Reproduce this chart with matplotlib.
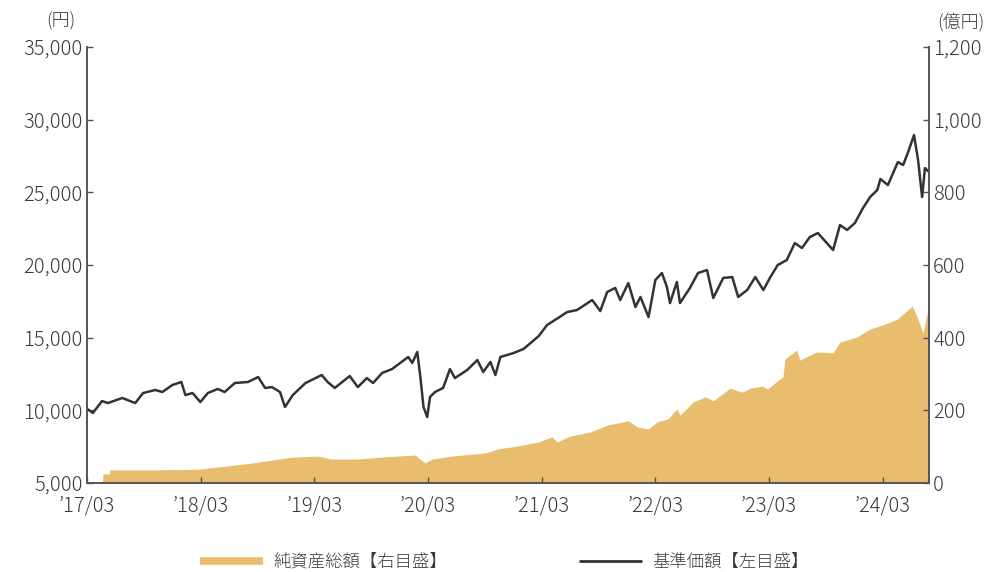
import matplotlib
matplotlib.use("Agg")
import matplotlib.pyplot as plt
from matplotlib.lines import Line2D
from matplotlib.ticker import FuncFormatter
import pandas as pd

plt.rcParams["font.family"] = ["Noto Sans CJK JP", "DejaVu Sans"]
plt.rcParams["font.weight"] = "light"

# 基準価額 (円)
nav_dates = [
    "2017-03-01", "2017-03-20", "2017-04-18", "2017-05-07", "2017-06-22", "2017-08-03",
    "2017-08-28", "2017-10-06", "2017-10-29", "2017-11-30", "2017-12-29", "2018-01-11",
    "2018-02-03", "2018-02-28", "2018-03-24", "2018-04-25", "2018-05-17", "2018-06-19",
    "2018-07-31", "2018-09-02", "2018-09-24", "2018-10-16", "2018-11-11", "2018-11-27",
    "2018-12-22", "2019-02-01", "2019-03-25", "2019-04-13", "2019-05-06", "2019-06-23",
    "2019-07-19", "2019-08-17", "2019-09-06", "2019-10-05", "2019-11-06", "2019-12-02",
    "2019-12-28", "2020-01-10", "2020-01-26", "2020-02-05", "2020-02-15", "2020-02-27",
    "2020-03-07", "2020-03-23", "2020-04-18", "2020-05-10", "2020-05-26", "2020-07-04",
    "2020-08-06", "2020-08-25", "2020-09-17", "2020-10-03", "2020-10-19", "2020-11-30",
    "2021-01-01", "2021-01-24", "2021-02-19", "2021-03-18", "2021-04-22", "2021-05-21",
    "2021-06-22", "2021-08-10", "2021-09-05", "2021-09-27", "2021-10-23", "2021-11-08",
    "2021-12-04", "2021-12-27", "2022-01-12", "2022-02-07", "2022-03-01", "2022-03-22",
    "2022-04-07", "2022-04-17", "2022-05-09", "2022-05-19", "2022-06-20", "2022-07-16",
    "2022-08-14", "2022-09-03", "2022-10-05", "2022-11-03", "2022-11-22", "2022-12-21",
    "2023-01-16", "2023-02-11", "2023-03-04", "2023-03-29", "2023-04-27", "2023-05-23",
    "2023-06-15", "2023-07-10", "2023-08-05", "2023-09-03", "2023-09-23", "2023-10-15",
    "2023-11-07", "2023-12-02", "2023-12-28", "2024-01-20", "2024-02-12", "2024-02-22",
    "2024-03-17", "2024-04-18", "2024-05-05", "2024-05-21", "2024-06-09", "2024-06-22",
    "2024-07-05", "2024-07-14", "2024-07-27",
]
nav_values = [
    10100, 9820, 10640, 10500, 10850, 10500,
    11190, 11400, 11260, 11740, 11950, 11050,
    11190, 10570, 11190, 11470, 11260, 11880,
    11950, 12290, 11540, 11600, 11260, 10230,
    11050, 11880, 12430, 11950, 11540, 12360,
    11600, 12220, 11880, 12570, 12840, 13260,
    13670, 13260, 14010, 12290, 10230, 9540,
    10920, 11260, 11540, 12840, 12220, 12770,
    13460, 12640, 13330, 12430, 13670, 13940,
    14220, 14630, 15110, 15870, 16350, 16760,
    16900, 17590, 16830, 18140, 18420, 17590,
    18760, 17110, 17800, 16420, 18970, 19450,
    18490, 17380, 18830, 17380, 18420, 19450,
    19650, 17730, 19110, 19170, 17800, 18280,
    19170, 18280, 19110, 20000, 20340, 21510,
    21170, 21920, 22200, 21510, 21030, 22750,
    22410, 22890, 23920, 24680, 25160, 25920,
    25500, 27080, 26880, 27770, 28940, 27220,
    24680, 26670, 26400,
]

# 純資産総額 (億円)
aum_dates = [
    "2017-04-20", "2017-04-21", "2017-05-12", "2017-05-13", "2017-09-26", "2018-02-21",
    "2018-04-25", "2018-08-13", "2018-10-16", "2018-12-19", "2019-03-12", "2019-04-26",
    "2019-07-19", "2019-10-14", "2020-01-19", "2020-02-20", "2020-03-13", "2020-05-16",
    "2020-09-01", "2020-10-12", "2020-12-15", "2021-02-19", "2021-04-03", "2021-04-19",
    "2021-05-30", "2021-08-03", "2021-09-30", "2021-12-04", "2022-01-02", "2022-02-07",
    "2022-03-06", "2022-04-10", "2022-05-09", "2022-05-19", "2022-06-30", "2022-08-08",
    "2022-09-03", "2022-10-27", "2022-12-05", "2022-12-31", "2023-02-08", "2023-02-24",
    "2023-04-05", "2023-04-15", "2023-04-21", "2023-05-29", "2023-06-08", "2023-08-02",
    "2023-09-23", "2023-10-15", "2023-12-09", "2024-01-20", "2024-03-01", "2024-04-16",
    "2024-06-03", "2024-06-19", "2024-07-08", "2024-07-21", "2024-07-27",
]
aum_values = [
    0, 25, 25, 36, 36, 38,
    44, 55, 63, 71, 74, 66,
    66, 72, 77, 55, 66, 74,
    83, 94, 102, 113, 127, 113,
    129, 140, 160, 171, 154, 149,
    168, 176, 204, 187, 223, 237,
    226, 261, 250, 261, 267, 259,
    286, 292, 341, 366, 338, 361,
    358, 388, 402, 424, 435, 451,
    487, 457, 413, 468, 468,
]

tick_dates = ["2017-03-01", "2018-03-01", "2019-03-01", "2020-03-01",
              "2021-03-01", "2022-03-01", "2023-03-01", "2024-03-01"]
tick_labels = ["’17/03", "’18/03", "’19/03", "’20/03",
               "’21/03", "’22/03", "’23/03", "’24/03"]

nav_x = pd.to_datetime(nav_dates)
aum_x = pd.to_datetime(aum_dates)

text_color = "#3a3a3a"
spine_color = "#555555"
gold = "#E8BE6E"

fig = plt.figure(figsize=(9.89, 5.72), dpi=100)
ax = fig.add_axes([0.088, 0.1556, 0.8513, 0.7622])
ax2 = ax.twinx()

ax2.fill_between(aum_x, 0, aum_values, color=gold, linewidth=0)
ax.plot(nav_x, nav_values, color="#333333", linewidth=1.8)

ax.set_zorder(ax2.get_zorder() + 1)
ax.patch.set_visible(False)

ax.set_xlim(pd.Timestamp("2017-03-01"), pd.Timestamp("2024-07-27"))
ax.set_ylim(5000, 35000)
ax2.set_ylim(0, 1200)
ax.set_yticks(range(5000, 35001, 5000))
ax2.set_yticks(range(0, 1201, 200))
ax.yaxis.set_major_formatter(FuncFormatter(lambda v, p: f"{int(v):,}"))
ax2.yaxis.set_major_formatter(FuncFormatter(lambda v, p: f"{int(v):,}"))
ax.set_xticks(pd.to_datetime(tick_dates))
ax.set_xticklabels(tick_labels)

for a in (ax, ax2):
    a.spines["top"].set_visible(False)
    for s in ("left", "right", "bottom"):
        a.spines[s].set_color(spine_color)
        a.spines[s].set_linewidth(1.2)
    a.tick_params(direction="in", length=4, width=1.0, color=spine_color,
                  labelsize=14.5, labelcolor=text_color)
ax.tick_params(axis="x", pad=9)
ax.tick_params(axis="y", pad=3)
ax2.tick_params(axis="y", pad=3)

fig.text(0.062, 0.962, "(円)", fontsize=13, color=text_color, ha="center", va="center")
fig.text(0.972, 0.962, "(億円)", fontsize=13, color=text_color, ha="center", va="center")

handles = [Line2D([], [], color=gold, linewidth=5.5, solid_capstyle="butt"),
           Line2D([], [], color="#333333", linewidth=2, solid_capstyle="butt")]
fig.legend(handles, ["純資産総額【右目盛】", "基準価額【左目盛】"],
           loc="center", bbox_to_anchor=(0.51, 0.018), ncol=2, frameon=False,
           fontsize=12.5, labelcolor=text_color, handlelength=3.6,
           handletextpad=0.6, columnspacing=7.6)

fig.savefig("out.png", dpi=100)
